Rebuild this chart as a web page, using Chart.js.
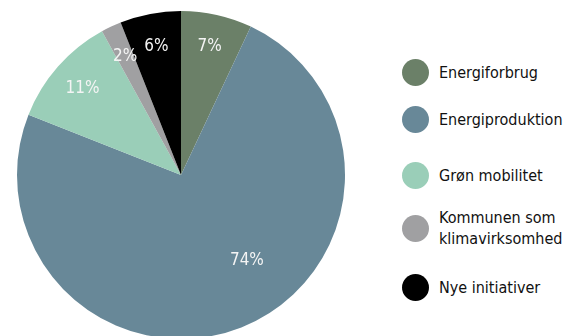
<!DOCTYPE html>
<html>
<head>
<meta charset="utf-8">
<script src="https://cdn.jsdelivr.net/npm/chart.js@4/dist/chart.umd.min.js"></script>
<style>
  html, body { margin: 0; padding: 0; background: #fff; overflow: hidden; }
  #wrap { position: absolute; left: 0; top: 0; width: 362px; height: 350px; }
  #legend { position: absolute; left: 402px; top: 0; font-family: "Liberation Sans Narrow", "DejaVu Sans Condensed", sans-serif; font-size: 16px; color: #111; }
  .item { position: absolute; left: 0; display: flex; align-items: center; white-space: nowrap; }
  .dot { width: 27px; height: 27px; border-radius: 50%; margin-right: 10px; flex: none; }
  .txt { line-height: 21px; }
</style>
</head>
<body>
<div id="wrap"><canvas id="pie"></canvas></div>
<div id="legend"></div>
<script>
const categories = ['Energiforbrug', 'Energiproduktion', 'Grøn mobilitet', 'Kommunen som\nklimavirksomhed', 'Nye initiativer'];
const shares = [7, 74, 11, 2, 6];
const colors = ['#6b8068', '#688898', '#9aceb8', '#a0a0a2', '#000000'];

// legend rows on the right, centre y of each dot
const legendY = [72, 119, 175, 228, 287];
const legend = document.getElementById('legend');
categories.forEach((name, i) => {
  const row = document.createElement('div');
  row.className = 'item';
  const lines = name.split('\n');
  row.style.top = (legendY[i] - 14) + 'px';
  row.style.height = '28px';
  const dot = document.createElement('div');
  dot.className = 'dot';
  dot.style.background = colors[i];
  const txt = document.createElement('div');
  txt.className = 'txt';
  txt.innerHTML = lines.join('<br>');
  row.appendChild(dot);
  row.appendChild(txt);
  legend.appendChild(row);
});

// percentage labels inside the slices
const sliceLabels = {
  id: 'sliceLabels',
  afterDatasetsDraw(chart, args, opts) {
    const ctx = chart.ctx;
    const meta = chart.getDatasetMeta(0);
    ctx.save();
    ctx.font = '17px "Liberation Sans Narrow", "DejaVu Sans Condensed", sans-serif';
    ctx.fillStyle = '#f4f4f4';
    ctx.textAlign = 'center';
    ctx.textBaseline = 'middle';
    meta.data.forEach((arc, i) => {
      const p = arc.getProps(['x', 'y', 'startAngle', 'endAngle', 'outerRadius'], true);
      const tweak = opts.tweaks[i] || {};
      const a = tweak.angle !== undefined ? tweak.angle : (p.startAngle + p.endAngle) / 2;
      const r = p.outerRadius * (tweak.r || opts.r);
      ctx.fillText(shares[i] + '%', p.x + Math.cos(a) * r, p.y + Math.sin(a) * r);
    });
    ctx.restore();
  }
};

new Chart(document.getElementById('pie'), {
  type: 'pie',
  data: {
    labels: categories,
    datasets: [{
      data: shares,
      backgroundColor: colors,
      borderWidth: 0
    }]
  },
  options: {
    responsive: true,
    maintainAspectRatio: false,
    animation: false,
    layout: { padding: { left: 17, right: 17, top: 11, bottom: 11 } },
    plugins: {
      legend: { display: false },
      tooltip: { enabled: false },
      sliceLabels: {
        r: 0.8,
        tweaks: { 1: { angle: (142.5 - 90) * Math.PI / 180, r: 0.66 } }
      }
    }
  },
  plugins: [sliceLabels]
});
</script>
</body>
</html>
